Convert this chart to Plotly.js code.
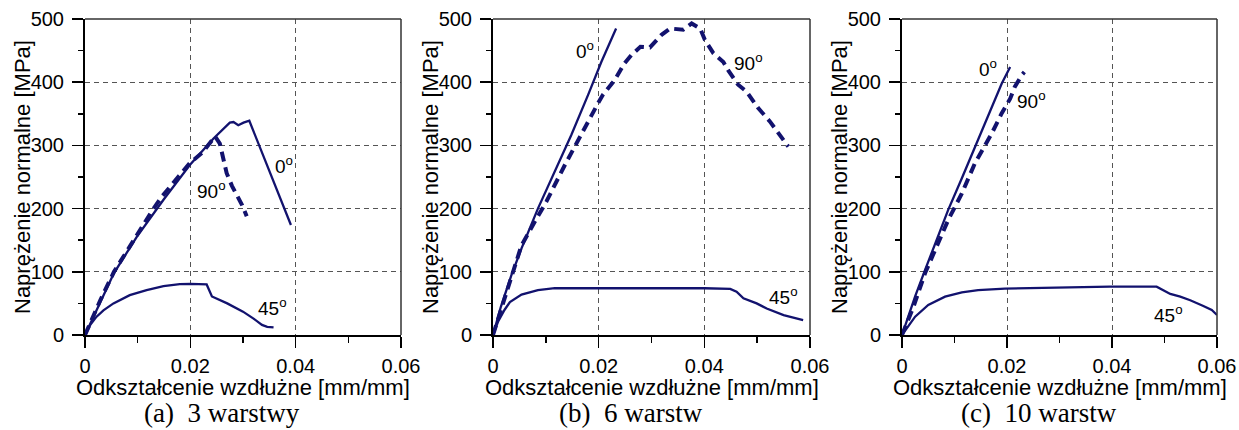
<!DOCTYPE html>
<html>
<head>
<meta charset="utf-8">
<script src="https://cdn.plot.ly/plotly-3.0.1.min.js"></script>
<style>html,body{margin:0;padding:0;background:#fff;} #chart{width:1239px;height:430px;}</style>
</head>
<body>
<div id="chart"></div>
<script>
// ---------- Data (strain [mm/mm], stress [MPa]) ----------
// (a) 3 warstwy
const strainA0  = [0, 0.001, 0.003, 0.0055, 0.0098, 0.0149, 0.0199, 0.0244, 0.0275, 0.0282, 0.0291, 0.0301, 0.0312, 0.0391];
const stressA0  = [0, 18, 52, 98, 155, 214, 269, 311, 336, 337, 332, 336, 339, 174];
const strainA90 = [0, 0.001, 0.0029, 0.0055, 0.0073, 0.0101, 0.0127, 0.0146, 0.0177, 0.0199, 0.0222, 0.0240, 0.0247, 0.0256, 0.0263, 0.0269, 0.0279, 0.0298, 0.0307];
const stressA90 = [0, 20, 55, 100, 124, 163, 196, 219, 251, 272, 288, 308, 314, 303, 277, 256, 236, 206, 188];
const strainA45 = [0, 0.0005, 0.001, 0.0022, 0.0035, 0.0054, 0.0085, 0.0117, 0.0149, 0.018, 0.020, 0.0231, 0.0234, 0.0236, 0.0241, 0.027, 0.030, 0.032, 0.0336, 0.0346, 0.0358];
const stressA45 = [0, 9, 16, 29, 39, 50, 63, 71, 77.5, 80.5, 81, 80, 74, 68, 61, 50, 37, 26, 16, 13, 12];

// (b) 6 warstw
const strainB0  = [0, 0.0015, 0.0035, 0.0054, 0.0085, 0.0117, 0.0148, 0.018, 0.0205, 0.0233];
const stressB0  = [0, 45, 95, 137, 200, 258, 316, 380, 432, 485];
const strainB90 = [0, 0.0022, 0.0041, 0.0054, 0.0079, 0.0101, 0.0136, 0.0158, 0.018, 0.0199, 0.0208, 0.023, 0.0249, 0.0262, 0.0279, 0.0297, 0.0319, 0.0335, 0.036, 0.0376, 0.0392, 0.0401, 0.0417, 0.0436, 0.0445, 0.0464, 0.048, 0.0502, 0.0524, 0.0546, 0.0559];
const stressB90 = [0, 58, 111, 142, 179, 211, 269, 304, 337, 367, 380, 403, 430, 443, 456, 455, 475, 485, 483, 493, 485, 467, 446, 432, 419, 396, 385, 359, 338, 314, 298];
const strainB45 = [0, 0.0005, 0.001, 0.0022, 0.0032, 0.0054, 0.0085, 0.0117, 0.02, 0.03, 0.04, 0.0449, 0.0461, 0.0474, 0.0499, 0.0518, 0.055, 0.0587];
const stressB45 = [0, 12, 22, 40, 52, 64, 71, 74, 74, 74.5, 74, 73, 68.5, 58, 50, 42, 31.5, 23.7];

// (c) 10 warstw
const strainC0  = [0, 0.0025, 0.0044, 0.0063, 0.0088, 0.0114, 0.0139, 0.0164, 0.019, 0.0206];
const stressC0  = [0, 61, 103, 145, 198, 248, 298, 348, 398, 424];
const strainC90 = [0, 0.0022, 0.0044, 0.0063, 0.0088, 0.0114, 0.0139, 0.0171, 0.019, 0.0206, 0.0215, 0.0228, 0.0233];
const stressC90 = [0, 45, 98, 134, 182, 224, 272, 319, 351, 374, 393, 411, 416];
const strainC45 = [0, 0.0005, 0.001, 0.0025, 0.005, 0.0082, 0.0114, 0.0145, 0.0196, 0.0253, 0.0396, 0.0485, 0.0498, 0.0511, 0.053, 0.0549, 0.0574, 0.059, 0.06];
const stressC45 = [0, 6, 11, 29, 47.5, 60.6, 67.5, 71, 73.3, 74.4, 76.5, 76.5, 71, 65, 60.6, 55, 46, 39.5, 31.6];

// Tick labels and texts
const xTickVals = [0, 0.02, 0.04, 0.06];
const xTickText = ['0', '0.02', '0.04', '0.06'];
const subplotTitles = ['(a)\u00a0\u00a03 warstwy', '(b)\u00a0\u00a06 warstw', '(c)\u00a0\u00a010 warstw'];
const xTitle = 'Odkształcenie wzdłużne [mm/mm]';
const yTitle = 'Naprężenie normalne [MPa]';
const angleLabels = ['0<sup>o</sup>', '90<sup>o</sup>', '45<sup>o</sup>'];
// label anchor positions [strain, stress] per panel: 0°, 90°, 45°
const labelPosA = [[0.0377, 269], [0.0241, 230], [0.0356, 45]];
const labelPosB = [[0.0174, 451], [0.0483, 432], [0.0550, 61]];
const labelPosC = [[0.0164, 422], [0.0247, 372], [0.0507, 34]];

// ---------- Styling ----------
const navy = '#12126e';
const FONT = 'Liberation Sans, Arial, sans-serif';
const panels = [
  {s: [[strainA0, stressA0], [strainA90, stressA90], [strainA45, stressA45]], lab: labelPosA},
  {s: [[strainB0, stressB0], [strainB90, stressB90], [strainB45, stressB45]], lab: labelPosB},
  {s: [[strainC0, stressC0], [strainC90, stressC90], [strainC45, stressC45]], lab: labelPosC}
];
const W = 1239, H = 430;
const xDom = [[85, 401], [493, 810], [902, 1217]];
const yTop = 19, yBot = 335;
const xLabelAxisPx = 347;   // pixel row of the (invisible) axis carrying the x tick labels

const traces = [];
const layout = {
  width: W, height: H,
  margin: {l: 0, r: 0, t: 0, b: 0},
  paper_bgcolor: '#fff', plot_bgcolor: '#fff',
  showlegend: false,
  font: {family: FONT, color: '#000'},
  annotations: [], shapes: []
};

panels.forEach((p, i) => {
  const sfx = i === 0 ? '' : String(i + 1);
  const xa = 'x' + sfx, ya = 'y' + sfx;
  const lblSfx = String(i + 4);
  const styles = [
    {color: navy, width: 2.3, dash: 'solid'},
    {color: navy, width: 4, dash: '10px,6px'},
    {color: navy, width: 2.3, dash: 'solid'}
  ];
  p.s.forEach((d, k) => {
    traces.push({x: d[0], y: d[1], xaxis: xa, yaxis: ya, type: 'scatter', mode: 'lines',
      line: styles[k], hoverinfo: 'skip'});
  });
  // empty trace so the tick-label axis gets drawn
  traces.push({x: [], y: [], xaxis: 'x' + lblSfx, yaxis: ya, type: 'scatter', mode: 'lines', hoverinfo: 'skip'});

  const axCommon = {
    showline: true, linecolor: '#000', linewidth: 2,
    ticks: 'outside', tickcolor: '#000', tickwidth: 1.5, ticklen: 11,
    showgrid: true, gridcolor: '#555', gridwidth: 1, griddash: '5px,4px',
    zeroline: false, tickfont: {family: FONT, size: 20, color: '#000'}
  };
  const dom = [xDom[i][0] / W, xDom[i][1] / W];
  layout['xaxis' + sfx] = Object.assign({}, axCommon, {
    domain: dom, anchor: ya,
    range: [0, 0.06], tickvals: xTickVals, ticktext: xTickText, showticklabels: false,
    minor: {dtick: 0.01, tick0: 0, ticks: 'outside', ticklen: 6, tickcolor: '#000', tickwidth: 1.5, showgrid: false}
  });
  layout['xaxis' + lblSfx] = {
    domain: dom, overlaying: xa, anchor: 'free', position: (H - xLabelAxisPx) / H,
    range: [0, 0.06], tickvals: xTickVals, ticktext: xTickText,
    showline: false, showgrid: false, zeroline: false,
    ticks: 'outside', ticklen: 1, tickcolor: 'rgba(0,0,0,0)',
    tickfont: {family: FONT, size: 20, color: '#000'}
  };
  layout['yaxis' + sfx] = Object.assign({}, axCommon, {
    domain: [(H - yBot) / H, (H - yTop) / H], anchor: xa,
    range: [0, 500], dtick: 100, tick0: 0,
    ticklabelstandoff: 4,
    minor: {dtick: 50, tick0: 0, ticks: 'outside', ticklen: 5, tickcolor: '#000', tickwidth: 1.5, showgrid: false}
  });
  // top & right frame
  layout.shapes.push({type: 'line', xref: xa + ' domain', yref: ya + ' domain', x0: 0, x1: 1, y0: 1, y1: 1, line: {color: '#333', width: 1.5}});
  layout.shapes.push({type: 'line', xref: xa + ' domain', yref: ya + ' domain', x0: 1, x1: 1, y0: 0, y1: 1, line: {color: '#333', width: 1.5}});
  // angle labels
  p.lab.forEach((pos, k) => {
    layout.annotations.push({x: pos[0], y: pos[1], xref: xa, yref: ya, text: angleLabels[k], showarrow: false,
      font: {family: FONT, size: 19, color: '#000'}, xanchor: 'center', yanchor: 'middle'});
  });
  const cx = (xDom[i][0] + xDom[i][1]) / 2;
  // x-axis title
  layout.annotations.push({x: cx / W, y: (H - 387) / H, xref: 'paper', yref: 'paper', text: xTitle, showarrow: false,
    font: {family: FONT, size: 22, color: '#000'}, xanchor: 'center', yanchor: 'middle'});
  // y-axis title
  layout.annotations.push({x: (xDom[i][0] - 63) / W, y: (H - (yTop + yBot) / 2) / H, xref: 'paper', yref: 'paper', text: yTitle,
    textangle: -90, showarrow: false, font: {family: FONT, size: 22, color: '#000'}, xanchor: 'center', yanchor: 'middle'});
  // subplot caption
  layout.annotations.push({x: (cx - 21) / W, y: (H - 413) / H, xref: 'paper', yref: 'paper', text: subplotTitles[i], showarrow: false,
    font: {family: 'Liberation Serif, Times New Roman, serif', size: 27, color: '#000'}, xanchor: 'center', yanchor: 'middle'});
});

Plotly.newPlot('chart', traces, layout, {staticPlot: true, displayModeBar: false});
</script>
</body>
</html>
